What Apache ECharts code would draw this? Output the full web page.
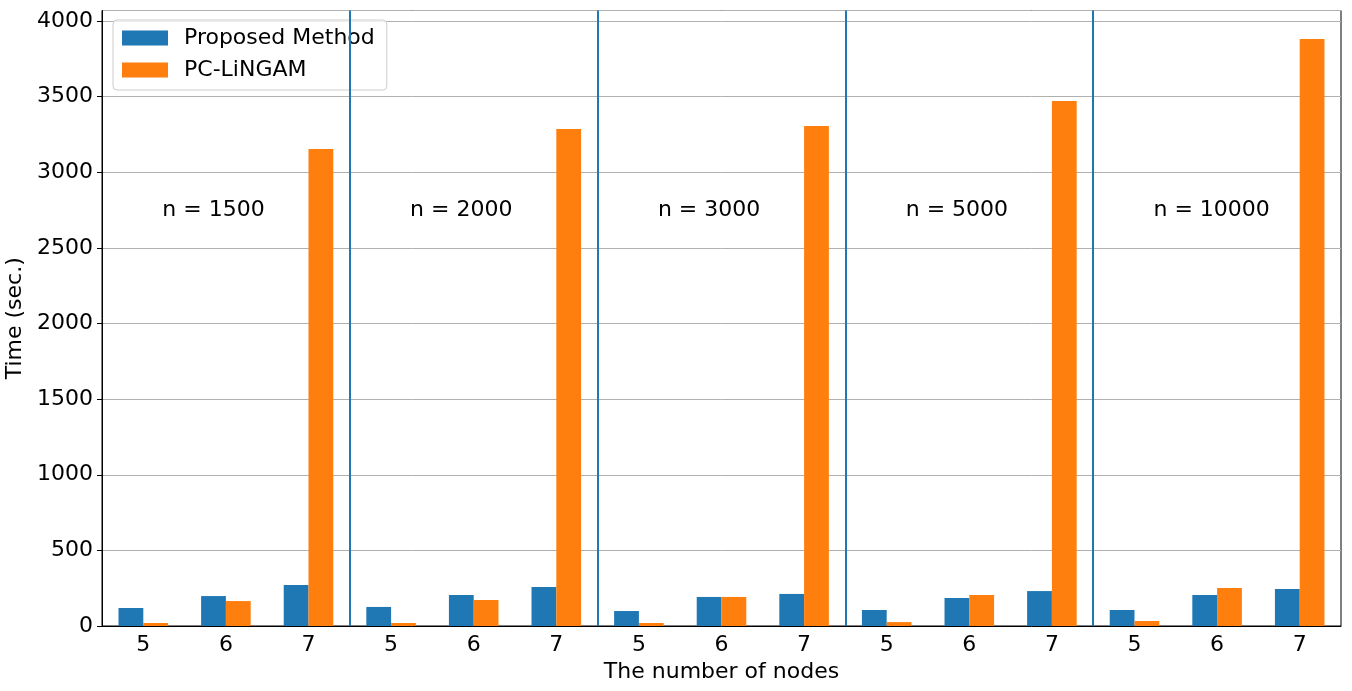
<!DOCTYPE html>
<html>
<head>
<meta charset="utf-8">
<script src="https://cdn.jsdelivr.net/npm/echarts@6/dist/echarts.min.js"></script>
<style>html,body{margin:0;padding:0;background:#fff;}#c{width:1352px;height:691px;}</style>
</head>
<body>
<div id="c"></div>
<script>
const nodeLabels = ['5','6','7','5','6','7','5','6','7','5','6','7','5','6','7'];
const groupNames = ['n = 1500','n = 2000','n = 3000','n = 5000','n = 10000'];
const proposed = [119, 198, 271, 126, 205, 258, 99, 192, 212, 106, 185, 231, 106, 205, 245];
const pcLingam = [20, 165, 3154, 20, 172, 3286, 20, 192, 3306, 26, 205, 3471, 33, 251, 3881];
const annotationY = 2750;
const yMax = 4070;

const FONT = 'DejaVu Sans';
const groupSize = 3;
const separators = groupNames.slice(0, -1).map((_, g) => (g + 1) * groupSize - 0.5);
const annotations = groupNames.map((name, g) => ({ value: [g * groupSize + 0.23, annotationY], name: name }));

const chart = echarts.init(document.getElementById('c'), null, { renderer: 'canvas' });
chart.setOption({
  animation: false,
  textStyle: { fontFamily: FONT },
  grid: { left: 102, right: 11, top: 10.5, bottom: 65, containLabel: false, outerBoundsMode: 'none',
    show: true, borderColor: '#000', borderWidth: 1, backgroundColor: 'transparent' },
  legend: {
    orient: 'vertical', left: 113, top: 20,
    padding: [7, 12, 9, 9],
    itemWidth: 46, itemHeight: 15, itemGap: 10,
    icon: 'rect',
    borderColor: '#cccccc', borderWidth: 1, borderRadius: 4,
    backgroundColor: 'rgba(255,255,255,0.8)',
    textStyle: { fontFamily: FONT, fontSize: 22, color: '#000', padding: [0, 0, 0, 11] },
    data: ['Proposed Method', 'PC-LiNGAM']
  },
  xAxis: [{
    type: 'category',
    data: nodeLabels,
    name: 'The number of nodes',
    nameLocation: 'middle',
    nameGap: 30,
    nameTextStyle: { fontFamily: FONT, fontSize: 22, color: '#000' },
    axisLine: { lineStyle: { color: '#000', width: 1 } },
    axisTick: { alignWithLabel: true, length: 5, lineStyle: { color: '#000' } },
    axisLabel: { fontFamily: FONT, fontSize: 22, color: '#000', margin: 8, interval: 0 },
    splitLine: { show: false }
  }, {
    type: 'value', min: -0.5, max: nodeLabels.length - 0.5, show: false
  }],
  yAxis: {
    type: 'value', min: 0, max: yMax, interval: 500,
    name: 'Time (sec.)',
    nameLocation: 'middle',
    nameGap: 68,
    nameRotate: 90,
    nameTextStyle: { fontFamily: FONT, fontSize: 22, color: '#000' },
    axisLine: { show: true, onZero: false, lineStyle: { color: '#000', width: 1 } },
    axisTick: { show: true, length: 5, lineStyle: { color: '#000' } },
    axisLabel: { fontFamily: FONT, fontSize: 22, color: '#000', margin: 9, showMaxLabel: false,
      formatter: v => String(v) },
    splitLine: { show: true, lineStyle: { color: '#b0b0b0', width: 1 } }
  },
  series: [{
    name: 'Proposed Method', type: 'bar', data: proposed,
    barWidth: '30%', barGap: '0%',
    itemStyle: { color: '#1f77b4' }
  }, {
    name: 'PC-LiNGAM', type: 'bar', data: pcLingam,
    barWidth: '30%', barGap: '0%',
    itemStyle: { color: '#ff7f0e' }
  }, {
    name: 'annotations', type: 'scatter', xAxisIndex: 1, yAxisIndex: 0,
    symbolSize: 0, silent: true,
    itemStyle: { opacity: 1 },
    data: annotations,
    label: { show: true, position: 'right', distance: 0, align: 'left', verticalAlign: 'middle',
      formatter: p => p.name, fontFamily: FONT, fontSize: 22, color: '#000', opacity: 1 },
    markLine: {
      silent: true, symbol: 'none',
      label: { show: false },
      lineStyle: { color: '#1f77b4', width: 2, type: 'solid' },
      data: separators.map(x => ({ xAxis: x }))
    }
  }]
});
</script>
</body>
</html>
